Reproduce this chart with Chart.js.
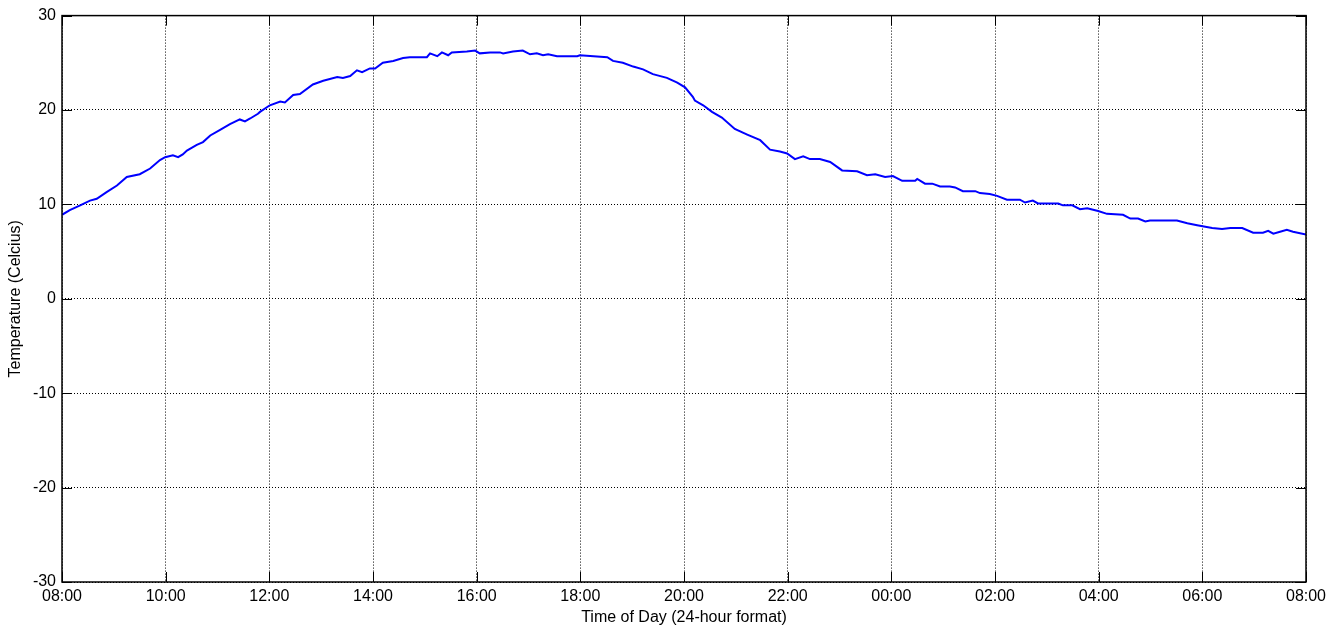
<!DOCTYPE html>
<html>
<head>
<meta charset="utf-8">
<title>Temperature over a day</title>
<script src="https://cdn.jsdelivr.net/npm/chart.js@4"></script>
<style>
  html, body { margin: 0; padding: 0; background: #fff; }
  #chart { display: block; }
</style>
</head>
<body>
<canvas id="chart" width="1338" height="629"></canvas>
<script>
// hours elapsed since 08:00
const hours = [
  0, 0.15, 0.35, 0.54, 0.67, 0.86, 1.06, 1.25, 1.50, 1.70, 1.89, 1.99, 2.14, 2.24, 2.33, 2.41, 2.60, 2.72,
  2.86, 3.05, 3.24, 3.43, 3.53, 3.63, 3.78, 3.82, 4.01, 4.21, 4.30, 4.46, 4.59, 4.84, 5.04, 5.31, 5.42,
  5.56, 5.69, 5.79, 5.94, 6.04, 6.19, 6.39, 6.58, 6.71, 7.04, 7.10, 7.24, 7.33, 7.45, 7.52, 7.81, 7.97,
  8.06, 8.26, 8.45, 8.51, 8.70, 8.89, 9.03, 9.16, 9.28, 9.38, 9.55, 9.94, 9.99, 10.52, 10.63, 10.82,
  11.02, 11.21, 11.40, 11.67, 11.87, 12.02, 12.17, 12.21, 12.37, 12.54, 12.73, 12.98, 13.22, 13.47,
  13.66, 13.85, 13.99, 14.14, 14.30, 14.43, 14.62, 14.82, 15.05, 15.34, 15.53, 15.69, 15.88, 16.03,
  16.21, 16.46, 16.50, 16.65, 16.79, 16.94, 17.13, 17.23, 17.38, 17.62, 17.71, 17.90, 18.04, 18.23,
  18.48, 18.58, 18.73, 18.83, 19.22, 19.31, 19.49, 19.64, 19.78, 19.99, 20.16, 20.47, 20.61, 20.76,
  20.90, 20.99, 21.51, 21.71, 21.90, 22.19, 22.38, 22.54, 22.77, 22.98, 23.17, 23.27, 23.37, 23.50,
  23.63, 23.75, 24
];

// temperature in degrees Celsius
const temps = [
  8.9, 9.4, 9.9, 10.4, 10.6, 11.3, 12.0, 12.9, 13.2, 13.8, 14.7, 15.0, 15.2, 15.0, 15.3, 15.7, 16.3, 16.6,
  17.3, 17.9, 18.5, 19.0, 18.8, 19.1, 19.6, 19.8, 20.5, 20.9, 20.8, 21.6, 21.7, 22.7, 23.1, 23.5, 23.4,
  23.6, 24.2, 24.0, 24.4, 24.4, 25.0, 25.2, 25.5, 25.6, 25.6, 26.0, 25.7, 26.1, 25.8, 26.1, 26.2, 26.3,
  26.0, 26.1, 26.1, 26.0, 26.2, 26.3, 25.9, 26.0, 25.8, 25.9, 25.7, 25.7, 25.8, 25.6, 25.2, 25.0,
  24.6, 24.3, 23.8, 23.4, 22.9, 22.4, 21.4, 21.0, 20.5, 19.8, 19.2, 18.0, 17.4, 16.8,
  15.8, 15.6, 15.4, 14.8, 15.1, 14.8, 14.8, 14.5, 13.6, 13.5, 13.1, 13.2, 12.9, 13.0,
  12.5, 12.5, 12.7, 12.2, 12.2, 11.9, 11.9, 11.8, 11.4, 11.4, 11.2, 11.1, 10.9, 10.5,
  10.5, 10.2, 10.4, 10.1, 10.1, 9.9, 9.9, 9.5, 9.6, 9.3, 9.0, 8.9, 8.5, 8.5,
  8.2, 8.3, 8.3, 8.0, 7.8, 7.5, 7.4, 7.5, 7.5, 7.0, 7.0, 7.2, 6.9, 7.1,
  7.3, 7.1, 6.8
];

const startHour = 8;
const xTicks = [0, 2, 4, 6, 8, 10, 12, 14, 16, 18, 20, 22, 24];
const yTicks = [-30, -20, -10, 0, 10, 20, 30];

const fontFamily = '"Liberation Sans", Arial, Helvetica, sans-serif';

function clockLabel(h) {
  const hh = (startHour + h) % 24;
  return String(hh).padStart(2, '0') + ':00';
}

// box around the plot with short inward ticks on all four sides
const axesBox = {
  id: 'axesBox',
  afterDraw(chart) {
    const { ctx, chartArea: a, scales: { x, y } } = chart;
    const len = 10;
    ctx.save();
    ctx.strokeStyle = '#000';
    ctx.lineWidth = 1;
    ctx.beginPath();
    xTicks.forEach(v => {
      const px = Math.round(x.getPixelForValue(v)) + 0.5;
      ctx.moveTo(px, a.bottom); ctx.lineTo(px, a.bottom - len);
      ctx.moveTo(px, a.top); ctx.lineTo(px, a.top + len);
    });
    yTicks.forEach(v => {
      const py = Math.round(y.getPixelForValue(v)) + 0.5;
      ctx.moveTo(a.left, py); ctx.lineTo(a.left + len, py);
      ctx.moveTo(a.right, py); ctx.lineTo(a.right - len, py);
    });
    ctx.stroke();
    ctx.lineWidth = 1.5;
    ctx.strokeRect(a.left, a.top, a.right - a.left, a.bottom - a.top);
    ctx.restore();
  }
};

new Chart(document.getElementById('chart'), {
  type: 'line',
  data: {
    datasets: [{
      data: hours.map((h, i) => ({ x: h, y: temps[i] })),
      borderColor: '#0000ff',
      borderWidth: 2,
      pointRadius: 0,
      tension: 0,
      fill: false
    }]
  },
  options: {
    responsive: false,
    animation: false,
    events: [],
    layout: { padding: { top: 13, right: 32, left: 0, bottom: 0 } },
    plugins: { legend: { display: false }, tooltip: { enabled: false } },
    scales: {
      x: {
        type: 'linear',
        min: 0,
        max: 24,
        afterFit(scale) { scale.height = 47; },
        afterBuildTicks(scale) { scale.ticks = xTicks.map(v => ({ value: v })); },
        ticks: {
          autoSkip: false,
          maxRotation: 0,
          padding: 5,
          color: '#000',
          font: { family: fontFamily, size: 16 },
          callback: v => clockLabel(v)
        },
        grid: { color: '#000', lineWidth: 1, drawTicks: false },
        border: { display: false, dash: [1, 2] },
        title: {
          display: true,
          text: 'Time of Day (24-hour format)',
          color: '#000',
          font: { family: fontFamily, size: 16 },
          padding: { top: 0, bottom: 2 }
        }
      },
      y: {
        min: -30,
        max: 30,
        afterFit(scale) { scale.width = 62; },
        afterBuildTicks(scale) { scale.ticks = yTicks.map(v => ({ value: v })); },
        ticks: {
          padding: 6,
          color: '#000',
          font: { family: fontFamily, size: 16 }
        },
        grid: { color: '#000', lineWidth: 1, drawTicks: false },
        border: { display: false, dash: [1, 2] },
        title: {
          display: true,
          text: 'Temperature (Celcius)',
          color: '#000',
          font: { family: fontFamily, size: 16 },
          padding: { top: 6, bottom: 0 }
        }
      }
    }
  },
  plugins: [axesBox]
});
</script>
</body>
</html>
